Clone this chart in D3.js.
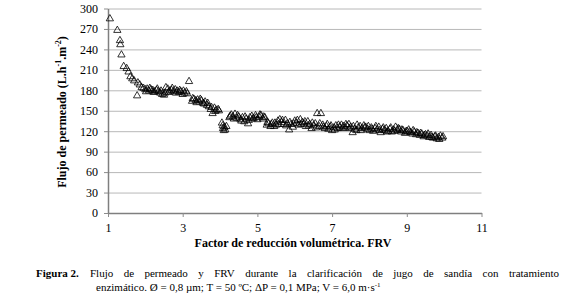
<!doctype html>
<html lang="es">
<head>
<meta charset="UTF-8" />
<title>Flujo de permeado y FRV</title>
<style>
    body { margin: 0; background: #fff; }
    svg, svg text { font-family: 'Liberation Serif', 'Times New Roman', serif; }
    .grid line { stroke: #b8b8b8; stroke-width: 1; }
    .grid .domain { display: none; }
    .axis text { font-size: 12px; fill: #000; }
    .axis line { stroke: #8c8c8c; }
    .axis .domain { stroke: #7f7f7f; stroke-width: 1.5; }
    .pt { fill: none; stroke: #000; stroke-width: 0.8; }
</style>
<script src="https://d3js.org/d3.v7.min.js"></script>
</head>
<body>
<div id="chart-container"></div>
<script>
// valores
var serif = "'Liberation Serif', 'Times New Roman', serif";
var xTicks = [1, 3, 5, 7, 9, 11];
var yTicks = [0, 30, 60, 90, 120, 150, 180, 210, 240, 270, 300];

var frv = [
    1.05, 1.25, 1.32, 1.33, 1.36, 1.42, 1.50, 1.55, 1.60, 1.65, 1.70, 1.78, 1.80, 1.85, 1.90, 1.95,
    2.00, 2.05, 2.10, 2.15, 2.20, 2.25, 2.30, 2.35, 2.40, 2.45, 2.50, 2.55, 2.60, 2.65, 2.70, 2.75,
    2.80, 2.85, 2.90, 2.95, 3.00, 3.05, 3.10, 3.17, 3.25, 3.30, 3.35, 3.40, 3.45, 3.50, 3.55, 3.60,
    3.65, 3.70, 3.75, 3.80, 3.85, 3.90, 3.95, 4.05, 4.08, 4.10, 4.12, 4.17, 4.25, 4.30, 4.35, 4.40,
    4.45, 4.50, 4.55, 4.60, 4.65, 4.70, 4.75, 4.80, 4.85, 4.90, 4.95, 5.00, 5.05, 5.10, 5.15, 5.20,
    5.25, 5.30, 5.35, 5.40, 5.45, 5.50, 5.55, 5.60, 5.65, 5.70, 5.75, 5.80, 5.85, 5.90, 5.95, 6.00,
    6.05, 6.10, 6.15, 6.20, 6.25, 6.30, 6.35, 6.40, 6.45, 6.50, 6.55, 6.60, 6.65, 6.70, 6.75, 6.80,
    6.85, 6.90, 6.95, 7.00, 7.05, 7.10, 7.15, 7.20, 7.25, 7.30, 7.35, 7.40, 7.45, 7.50, 7.55, 7.60,
    7.65, 7.70, 7.75, 7.80, 7.85, 7.90, 7.95, 8.00, 8.05, 8.10, 8.15, 8.20, 8.25, 8.30, 8.35, 8.40,
    8.45, 8.50, 8.55, 8.60, 8.65, 8.70, 8.75, 8.80, 8.85, 8.90, 8.95, 9.00, 9.05, 9.10, 9.15, 9.20,
    9.25, 9.30, 9.35, 9.40, 9.45, 9.50, 9.55, 9.60, 9.65, 9.70, 9.75, 9.80, 9.85, 9.90, 9.95,
    2.02, 2.12, 2.22, 2.32, 2.42, 2.52, 2.62, 2.72, 2.82, 2.92, 3.02, 3.12,
    3.27, 3.37, 3.47, 3.57, 3.67, 3.77, 3.87, 3.97,
    4.07, 4.14, 4.27, 4.37, 4.47, 4.57, 4.67, 4.77, 4.87, 4.97,
    5.07, 5.17, 5.27, 5.37, 5.47, 5.57, 5.67, 5.77, 5.87, 5.97,
    6.07, 6.17, 6.27, 6.37, 6.47, 6.57, 6.67, 6.77, 6.87, 6.97,
    7.07, 7.17, 7.27, 7.37, 7.47, 7.57, 7.67, 7.77, 7.87, 7.97,
    8.07, 8.17, 8.27, 8.37, 8.47, 8.57, 8.67, 8.77, 8.87, 8.97,
    9.07, 9.17, 9.27, 9.37, 9.47, 9.57, 9.67, 9.77, 9.87, 9.97
];
var flujo = [
    285, 268, 253, 247, 232, 215, 212, 207, 200, 197, 194, 172, 191, 188, 184, 183,
    181, 182, 179, 181, 180, 178, 180, 178, 176, 174, 173, 184, 182, 179, 180, 178,
    181, 179, 177, 178, 174, 176, 178, 193, 164, 167, 165, 166, 163, 165, 161, 163,
    158, 156, 152, 146, 154, 151, 152, 132, 124, 121, 126, 127, 140, 144, 141, 145,
    139, 141, 137, 140, 134, 138, 131, 140, 142, 139, 143, 137, 141, 143, 138, 140,
    129, 131, 127, 132, 127, 129, 135, 137, 133, 130, 136, 131, 122, 130, 126, 135,
    132, 129, 137, 133, 131, 127, 134, 130, 124, 128, 131, 146, 127, 146, 129, 124,
    127, 123, 126, 121, 125, 128, 124, 126, 129, 127, 125, 128, 130, 126, 118, 123,
    121, 125, 127, 124, 128, 126, 123, 121, 125, 120, 124, 122, 126, 118, 123, 121,
    124, 120, 123, 119, 122, 126, 121, 123, 119, 121, 117, 120, 122, 118, 116, 119,
    115, 117, 114, 116, 112, 115, 113, 111, 114, 110, 112, 109, 111, 113, 110,
    178, 183, 177, 182, 179, 176, 177, 183, 176, 180, 179, 175,
    168, 162, 167, 160, 161, 155, 149, 150,
    128, 122, 142, 138, 143, 135, 141, 136, 138, 140,
    144, 141, 133, 130, 132, 130, 136, 128, 133, 131,
    136, 130, 134, 128, 132, 125, 131, 126, 130, 128,
    122, 129, 124, 130, 124, 127, 129, 121, 125, 127,
    123, 127, 121, 125, 119, 125, 120, 124, 122, 119,
    119, 121, 118, 117, 114, 116, 111, 113, 108, 112
];

var canvasWidth = 562;
var canvasHeight = 298;
var margin = { top: 8.5, left: 108, right: 80.5, bottom: 85 };
var width = canvasWidth - margin.left - margin.right;
var height = canvasHeight - margin.top - margin.bottom;

var svg = d3.select('#chart-container')
    .append('svg')
    .attr('width', canvasWidth)
    .attr('height', canvasHeight);

var xScale = d3.scaleLinear().domain([1, 11]).range([0, width]);
var yScale = d3.scaleLinear().domain([0, 300]).range([height, 0]);

var g = svg.append('g')
    .attr('transform', 'translate(' + margin.left + ',' + margin.top + ')');

// lineas de la grilla
g.append('g')
    .attr('class', 'grid')
    .call(d3.axisLeft(yScale).tickValues(yTicks.slice(1)).tickSize(-width).tickFormat(''));

// eje x
g.append('g')
    .attr('class', 'axis')
    .attr('transform', 'translate(0,' + height + ')')
    .call(d3.axisBottom(xScale).tickValues(xTicks).tickSize(4).tickPadding(6).tickSizeOuter(0))
    .attr('font-family', serif)
    .attr('font-size', 12);

// eje y
g.append('g')
    .attr('class', 'axis')
    .call(d3.axisLeft(yScale).tickValues(yTicks).tickSize(4).tickPadding(6).tickSizeOuter(0))
    .attr('font-family', serif)
    .attr('font-size', 12);

// puntos
var data = frv.map(function (d, i) { return { x: d, y: flujo[i] }; });
var tri = d3.symbol().type(d3.symbolTriangle).size(23);

g.selectAll('.pt')
    .data(data)
    .enter()
    .append('path')
    .attr('class', 'pt')
    .attr('d', tri)
    .attr('transform', function (d) {
        return 'translate(' + xScale(d.x) + ',' + yScale(d.y) + ')';
    });

// titulo eje x
svg.append('text')
    .attr('x', 293)
    .attr('y', 247)
    .attr('text-anchor', 'middle')
    .attr('font-family', serif)
    .attr('font-size', '12px')
    .attr('font-weight', 'bold')
    .text('Factor de reducción volumétrica. FRV');

// titulo eje y
var yl = svg.append('text')
    .attr('transform', 'translate(66,112) rotate(-90)')
    .attr('text-anchor', 'middle')
    .attr('font-family', serif)
    .attr('font-size', '12px')
    .attr('font-weight', 'bold');
yl.append('tspan').text('Flujo de permeado (L.h');
yl.append('tspan').attr('font-size', '8px').attr('dy', -5).text('-1');
yl.append('tspan').attr('dy', 5).text('.m');
yl.append('tspan').attr('font-size', '8px').attr('dy', -5).text('-2');
yl.append('tspan').attr('dy', 5).text(')');

// leyenda de la figura
svg.append('text')
    .attr('x', 36)
    .attr('y', 277)
    .attr('font-family', serif)
    .attr('font-size', '11px')
    .attr('font-weight', 'bold')
    .text('Figura 2.');

var words = 'Flujo de permeado y FRV durante la clarificación de jugo de sandía con tratamiento'.split(' ');
var line1 = svg.append('g');
var x0 = 90, x1 = 559;
var nodes = words.map(function (w) {
    return line1.append('text')
        .attr('y', 277)
        .attr('font-family', serif)
        .attr('font-size', '11px')
        .text(w);
});
var total = 0;
nodes.forEach(function (n) { total += n.node().getComputedTextLength(); });
var gap = (x1 - x0 - total) / (nodes.length - 1);
var cx = x0;
nodes.forEach(function (n) {
    n.attr('x', cx);
    cx += n.node().getComputedTextLength() + gap;
});

var l2 = svg.append('text')
    .attr('x', 96)
    .attr('y', 291)
    .attr('font-family', serif)
    .attr('font-size', '11px');
l2.append('tspan').text('enzimático. Ø = 0,8 µm; T = 50 ºC; ΔP = 0,1 MPa; V = 6,0 m·s');
l2.append('tspan').attr('font-size', '7px').attr('dy', -4).text('-1');
</script>
</body>
</html>
